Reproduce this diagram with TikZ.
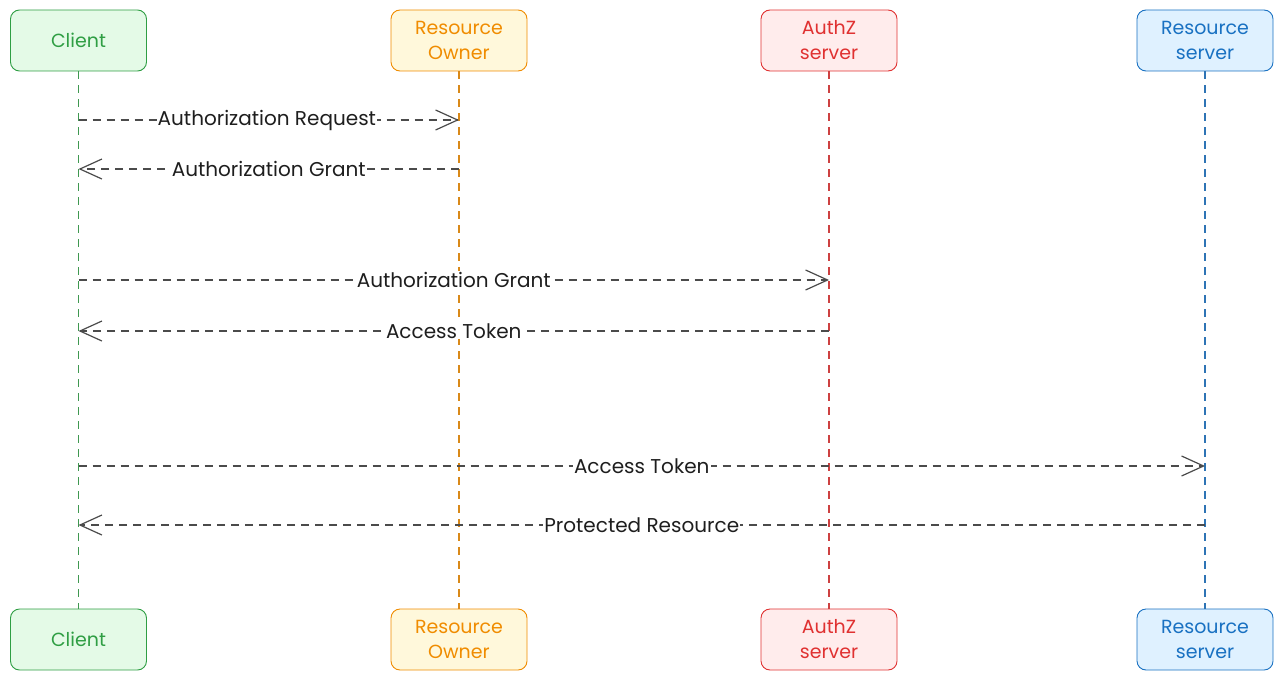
\documentclass[tikz,border=0pt]{standalone}
\usepackage{fontspec}
\setmainfont{Poppins}
\usetikzlibrary{arrows.meta,patterns}
\definecolor{gstroke}{HTML}{2F9E44}\definecolor{gfill}{HTML}{B2F2BB}
\definecolor{ostroke}{HTML}{F08C00}\definecolor{ofill}{HTML}{FFEC99}
\definecolor{rstroke}{HTML}{E03131}\definecolor{rfill}{HTML}{FFC9C9}
\definecolor{bstroke}{HTML}{1971C2}\definecolor{bfill}{HTML}{A5D8FF}
\definecolor{ink}{HTML}{1E1E1E}
\tikzset{
  actor/.style={draw=#1stroke, fill=#1fill!35, rounded corners=9pt, line width=0.9pt,
    minimum width=136pt, minimum height=61pt, inner sep=0pt, align=center,
    text=#1stroke, font=\fontsize{19}{25}\selectfont},
  life/.style={draw=#1stroke!80!gray, line width=1.2pt, dash pattern=on 8pt off 6pt},
  msg/.style={draw=ink!80, line width=1.3pt, dash pattern=on 8pt off 6pt,
    -{Straight Barb[length=22pt,width=20pt,line width=1.2pt]}},
  lbl/.style={fill=white, inner sep=1pt, text=ink, font=\fontsize{20}{22}\selectfont}
}
\begin{document}
\begin{tikzpicture}[x=1pt,y=-1pt]
\useasboundingbox (0,0) rectangle (1284,682);
% top actors
\node[actor=g] (ct) at (78.5,40.5) {Client};
\node[actor=o] (ot) at (459,40.5) {Resource\\Owner};
\node[actor=r] (at) at (829,40.5) {AuthZ\\server};
\node[actor=b] (rt) at (1205,40.5) {Resource\\server};
% bottom actors
\node[actor=g] (cb) at (78.5,639.5) {Client};
\node[actor=o] (ob) at (459,639.5) {Resource\\Owner};
\node[actor=r] (ab) at (829,639.5) {AuthZ\\server};
\node[actor=b] (rb) at (1205,639.5) {Resource\\server};
% lifelines
\draw[life=g] (ct.south) -- (cb.north);
\draw[life=o] (ot.south) -- (ob.north);
\draw[life=r] (at.south) -- (ab.north);
\draw[life=b] (rt.south) -- (rb.north);
% message endpoints
\coordinate (c1) at (78.5,120); \coordinate (o1) at (459,120);
\coordinate (c2) at (78.5,169); \coordinate (o2) at (459,169);
\coordinate (c3) at (78.5,280); \coordinate (a3) at (829,280);
\coordinate (c4) at (78.5,331); \coordinate (a4) at (829,331);
\coordinate (c5) at (78.5,466); \coordinate (r5) at (1205,466);
\coordinate (c6) at (78.5,525); \coordinate (r6) at (1205,525);
% messages
\draw[msg] (c1) -- node[lbl, pos=0.495] (m1) {Authorization Request} (o1);
\draw[msg] (o2) -- node[lbl, pos=0.5] (m2) {Authorization Grant} (c2);
\draw[msg] (c3) -- node[lbl, pos=0.5] (m3) {Authorization Grant} (a3);
\draw[msg] (a4) -- node[lbl, pos=0.5] (m4) {Access Token} (c4);
\draw[msg] (c5) -- node[lbl, pos=0.5] (m5) {Access Token} (r5);
\draw[msg] (r6) -- node[lbl, pos=0.5] (m6) {Protected Resource} (c6);
\end{tikzpicture}
\end{document}
